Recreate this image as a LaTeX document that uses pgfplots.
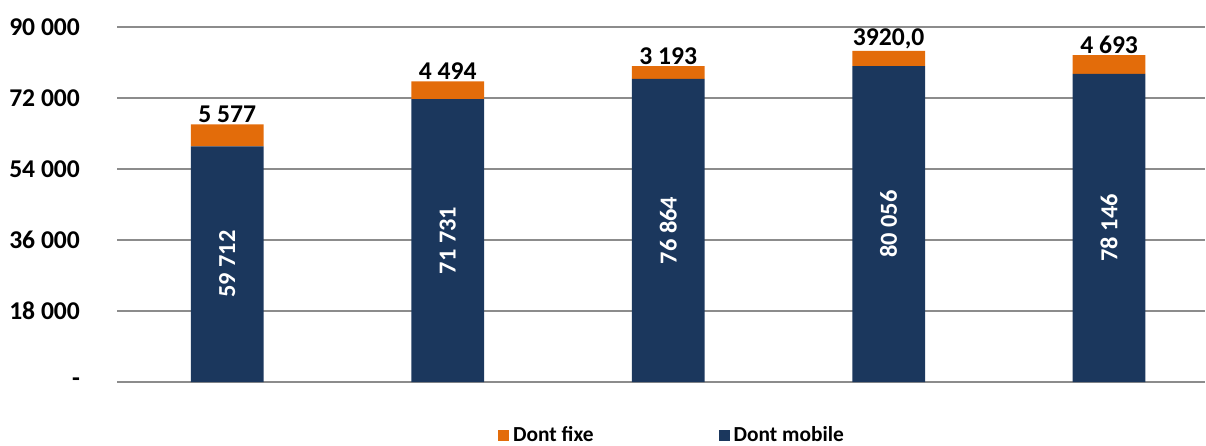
\documentclass[border=0pt]{standalone}
\usepackage{fontspec}
\setmainfont{Carlito}
\usepackage{pgfplots}
\usepackage{pgfplotstable}
\pgfplotsset{compat=1.18}

\definecolor{navy}{HTML}{1B375D}
\definecolor{orng}{HTML}{E36C0A}
\definecolor{gridgray}{HTML}{8C8C8C}

\pgfplotstableread{
x mob fix flbl mlbl
0 59712 5577 {5 577} {59 712}
1 71731 4494 {4 494} {71 731}
2 76864 3193 {3 193} {76 864}
3 80056 3920 {3920,0} {80 056}
4 78146 4693 {4 693} {78 146}
}\data

\pgfplotsset{
  base/.style={
    at={(58.5pt,31.5pt)}, anchor=south west,
    scale only axis, width=544pt, height=177.5pt,
    xmin=-0.5, xmax=4.435, ymin=0, ymax=90000,
    xtick=\empty, clip=false, scaled y ticks=false,
  },
}

\begin{document}
\begin{tikzpicture}
\useasboundingbox (0,0) rectangle (603pt,222.5pt);
\begin{axis}[base,
  ybar stacked, bar width=0.33,
  ytick={0,18000,36000,54000,72000,90000},
  yticklabels={-\hspace{5.5pt},18 000,36 000,54 000,72 000,90 000},
  yticklabel style={font=\bfseries\fontsize{12.8}{14}\selectfont, xshift=-15pt},
  ymajorgrids, grid style={gridgray, line width=1pt},
  axis line style={draw=none}, tick style={draw=none},
  reverse legend,
  legend columns=2,
  legend style={draw=none, fill=none, at={(0.511,-0.15)}, anchor=center,
    font=\bfseries\fontsize{10.7}{12}\selectfont,
    /tikz/every even column/.append style={column sep=60.5pt}},
]
\addplot[fill=navy, draw=none,
  legend image code/.code={\fill[navy] (0pt,-2.75pt) rectangle (5.5pt,2.75pt);}]
  table[x=x, y=mob] {\data};
\addlegendentry{Dont mobile}
\addplot[fill=orng, draw=none,
  legend image code/.code={\fill[orng] (0pt,-2.75pt) rectangle (5.5pt,2.75pt);}]
  table[x=x, y=fix] {\data};
\addlegendentry{Dont fixe}
\end{axis}
\begin{axis}[base, hide axis]
\addplot[draw=none, mark=none, nodes near coords, point meta=explicit symbolic,
  nodes near coords style={font=\bfseries\fontsize{12.2}{14}\selectfont, white, anchor=center, rotate=90}]
  table[x=x, y expr=\thisrow{mob}/2, meta=mlbl] {\data};
\addplot[draw=none, mark=none, nodes near coords, point meta=explicit symbolic,
  nodes near coords style={font=\bfseries\fontsize{12.8}{14}\selectfont, black, anchor=south, inner sep=0.8pt}]
  table[x=x, y expr=\thisrow{mob}+\thisrow{fix}, meta=flbl] {\data};
\end{axis}
\end{tikzpicture}
\end{document}
